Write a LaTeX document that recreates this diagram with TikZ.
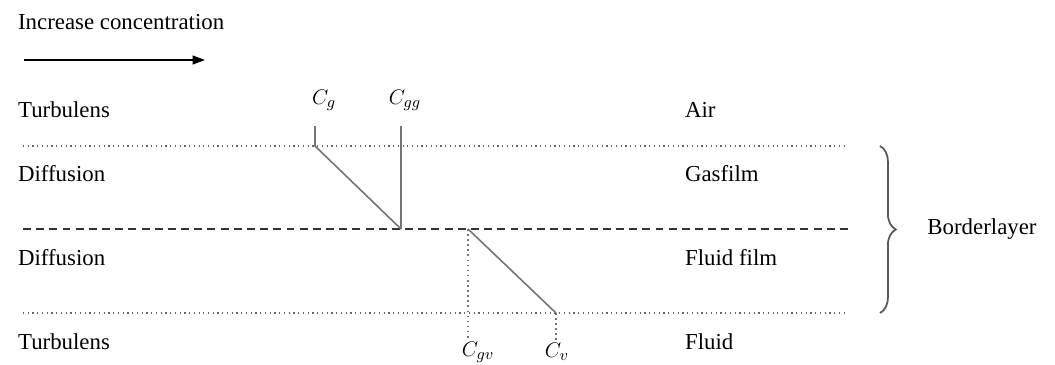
\documentclass[tikz,border=0pt]{standalone}
\usepackage{fontspec}
\setmainfont{Liberation Serif}
\usepackage{amsmath}
\usepackage{xcolor}
\usetikzlibrary{arrows.meta, decorations.pathreplacing}

\begin{document}
\begin{tikzpicture}[>={Triangle[length=7pt,width=5pt]}, x=0.02cm, y=-0.02cm,
    every node/.style={font=\fontsize{13}{15}\selectfont, inner sep=1pt},
    layer/.style={gray!80!black, line width=0.7pt, dotted},
    interface/.style={black!80, line width=0.8pt, dash pattern=on 4.5pt off 3pt},
    profile/.style={gray!90!black, line width=0.9pt},
    drop/.style={gray!90!black, line width=0.9pt, dotted}]
    \useasboundingbox (0,0) rectangle (1055,365);

    % Nodes
    \node[anchor=west] (title) at (16,22) {Increase concentration};
    \coordinate (arrS) at (24,60);
    \coordinate (arrE) at (205,60);

    \node[anchor=west] (turbA) at (16,110) {Turbulens};
    \node[anchor=west] (diffA) at (16,174) {Diffusion};
    \node[anchor=west] (diffB) at (16,258) {Diffusion};
    \node[anchor=west] (turbB) at (16,342) {Turbulens};

    \node[anchor=west] (air) at (683,110) {Air};
    \node[anchor=west] (gasfilm) at (683,174) {Gasfilm};
    \node[anchor=west] (fluidfilm) at (683,258) {Fluid film};
    \node[anchor=west] (fluid) at (683,342) {Fluid};

    \node (cg) at (324,100) {$C_g$};
    \node (cgg) at (405,100) {$C_{gg}$};
    \node (cgv) at (478,352) {$C_{gv}$};
    \node (cv) at (557,352) {$C_v$};
    \node (border) at (982,229) {Borderlayer};

    % Layer boundaries
    \coordinate (topW) at (23,146);  \coordinate (topE) at (848,146);
    \coordinate (midW) at (23,229);  \coordinate (midE) at (848,229);
    \coordinate (botW) at (23,313);  \coordinate (botE) at (848,313);

    % Profile points
    \coordinate (gTop) at (315,126);
    \coordinate (ggTop) at (401,126);
    \coordinate (pg) at (315,146);
    \coordinate (pgg) at (401,229);
    \coordinate (pgv) at (468,229);
    \coordinate (pv) at (556,313);
    \coordinate (gvEnd) at (468,340);
    \coordinate (vEnd) at (556,340);

    % Edges
    \draw[->, line width=0.9pt] (arrS) -- (arrE);
    \draw[layer] (topW) -- (topE);
    \draw[interface] (midW) -- (midE);
    \draw[layer] (botW) -- (botE);

    \draw[profile] (gTop) -- (pg) -- (pgg);
    \draw[profile] (ggTop) -- (pgg);
    \draw[profile] (pgv) -- (pv);
    \draw[drop] (pgv) -- (gvEnd);
    \draw[drop] (pv) -- (vEnd);

    \draw[gray!70!black, line width=1pt, decorate,
          decoration={brace, amplitude=9pt}] (880,146) -- (880,313);
\end{tikzpicture}
\end{document}
